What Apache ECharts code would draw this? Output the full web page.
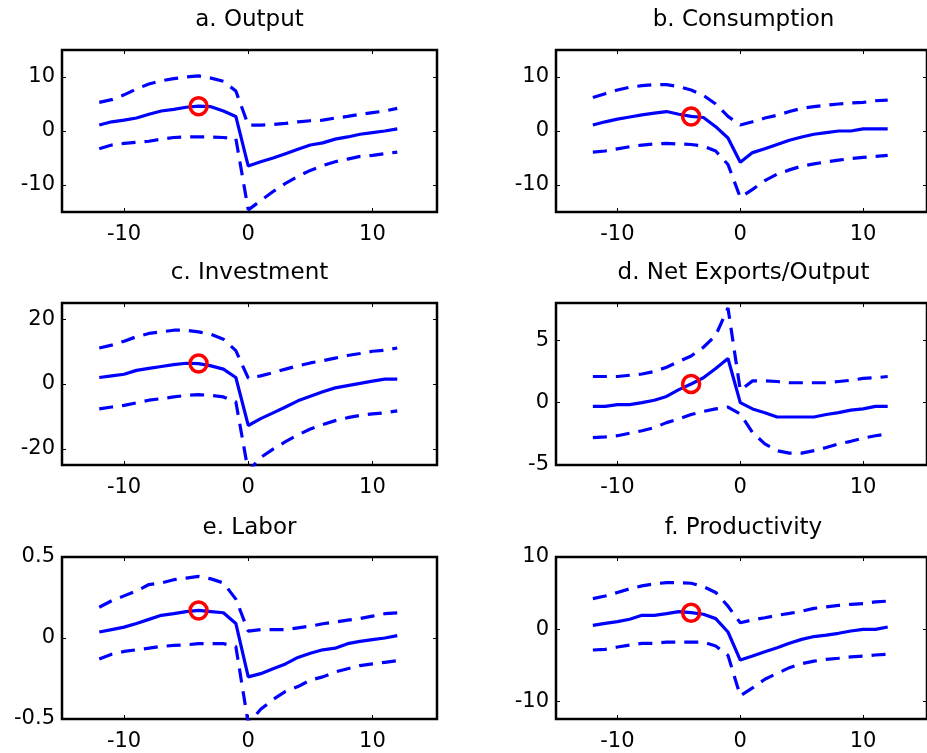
<!DOCTYPE html>
<html>
<head>
<meta charset="utf-8">
<script src="https://cdn.jsdelivr.net/npm/echarts@6/dist/echarts.min.js"></script>
<style>
html,body{margin:0;padding:0;background:#ffffff;}
#chart{width:927px;height:753px;}
</style>
</head>
<body>
<div id="chart"></div>
<script>
// ---- data ----
const lags = [-12,-11,-10,-9,-8,-7,-6,-5,-4,-3,-2,-1,0,1,2,3,4,5,6,7,8,9,10,11,12];
const titles = ['a. Output','b. Consumption','c. Investment','d. Net Exports/Output','e. Labor','f. Productivity'];
const markerLag = -4;

const outputMid = [1.1,1.7,2.0,2.4,3.1,3.7,4.0,4.4,4.6,4.5,3.7,2.7,-6.5,-5.7,-5.0,-4.2,-3.4,-2.6,-2.2,-1.5,-1.1,-0.6,-0.3,0,0.4];
const outputUp  = [5.3,5.8,6.7,7.8,8.7,9.3,9.7,10.0,10.2,9.8,9.2,7.4,1.1,1.1,1.2,1.4,1.7,1.9,2.0,2.4,2.7,3.1,3.4,3.7,4.2];
const outputLo  = [-3.3,-2.6,-2.3,-2.1,-1.9,-1.5,-1.2,-1.1,-1.1,-1.1,-1.2,-1.4,-14.6,-12.9,-11.2,-9.7,-8.4,-7.3,-6.4,-5.7,-5.2,-4.7,-4.5,-4.2,-3.9];

const consMid = [1.1,1.7,2.2,2.6,3.0,3.3,3.6,3.1,2.7,2.5,0.8,-1.3,-5.8,-4.0,-3.3,-2.5,-1.7,-1.1,-0.6,-0.3,0,0,0.4,0.4,0.4];
const consUp  = [6.2,6.9,7.6,8.1,8.4,8.6,8.6,8.2,7.6,6.6,5.0,2.7,1.1,1.7,2.4,2.9,3.6,4.2,4.5,4.8,5.0,5.2,5.3,5.6,5.7];
const consLo  = [-3.9,-3.7,-3.3,-2.9,-2.6,-2.4,-2.3,-2.4,-2.5,-2.8,-3.7,-6.2,-12.3,-10.8,-9.2,-8.0,-7.2,-6.5,-6.1,-5.7,-5.4,-5.1,-4.9,-4.7,-4.5];

const invMid = [2.0,2.5,3.0,4.2,4.8,5.4,6.0,6.4,6.3,5.6,4.6,2.0,-12.8,-10.7,-8.9,-7.1,-5.2,-3.8,-2.4,-1.2,-0.5,0.2,0.9,1.5,1.5];
const invUp  = [11.1,12.0,13.2,14.6,15.6,16.1,16.6,16.6,16.1,15.3,13.8,10.3,1.8,2.5,3.5,4.6,5.6,6.5,7.2,8.0,8.8,9.4,10.1,10.4,11.1];
const invLo  = [-7.7,-7.1,-6.6,-5.8,-5.0,-4.5,-4.0,-3.5,-3.3,-3.5,-4.0,-5.5,-27,-22.7,-20.1,-17.8,-15.7,-13.9,-12.5,-11.3,-10.4,-9.7,-9.2,-8.9,-8.3];

const nxMid = [-0.3,-0.3,-0.15,-0.15,0,0.2,0.5,1.05,1.5,2.0,2.75,3.55,0,-0.5,-0.8,-1.15,-1.15,-1.15,-1.15,-0.95,-0.8,-0.6,-0.5,-0.3,-0.3];
const nxUp  = [2.1,2.1,2.1,2.2,2.3,2.5,2.85,3.3,3.75,4.45,5.4,7.6,1.0,1.75,1.75,1.7,1.6,1.6,1.6,1.6,1.7,1.8,1.95,2.0,2.1];
const nxLo  = [-2.8,-2.75,-2.65,-2.45,-2.25,-2.0,-1.6,-1.3,-0.95,-0.7,-0.5,-0.35,-0.9,-2.4,-3.3,-3.85,-4.05,-4.05,-3.85,-3.6,-3.3,-3.1,-2.85,-2.65,-2.5];

const labMid = [0.037,0.052,0.067,0.09,0.115,0.14,0.15,0.163,0.17,0.163,0.156,0.09,-0.24,-0.22,-0.19,-0.16,-0.12,-0.094,-0.073,-0.063,-0.035,-0.021,-0.01,0,0.015];
const labUp  = [0.19,0.23,0.26,0.29,0.33,0.34,0.36,0.37,0.38,0.365,0.34,0.24,0.042,0.052,0.052,0.052,0.063,0.073,0.088,0.098,0.11,0.12,0.135,0.15,0.155];
const labLo  = [-0.13,-0.1,-0.083,-0.073,-0.063,-0.052,-0.046,-0.042,-0.035,-0.035,-0.035,-0.052,-0.53,-0.44,-0.38,-0.33,-0.3,-0.26,-0.24,-0.21,-0.19,-0.17,-0.16,-0.15,-0.14];

const prodMid = [0.55,0.83,1.06,1.4,1.94,1.94,2.17,2.45,2.3,2.08,1.48,-0.37,-4.25,-3.7,-3.1,-2.54,-1.94,-1.39,-1.0,-0.8,-0.55,-0.23,0,0,0.32];
const prodUp  = [4.25,4.6,5.1,5.6,6.0,6.3,6.45,6.45,6.37,5.9,5.1,3.2,0.9,1.3,1.6,1.94,2.2,2.5,2.9,3.1,3.3,3.45,3.55,3.8,3.9];
const prodLo  = [-2.86,-2.77,-2.45,-2.17,-1.94,-1.94,-1.76,-1.76,-1.76,-1.76,-2.3,-3.6,-9.2,-8.1,-6.9,-6.1,-5.3,-4.75,-4.4,-4.15,-4.0,-3.8,-3.7,-3.55,-3.45];

const xRange = [-15, 15.2];
const xTicks = [-10, 0, 10];
const yRanges = [[-15,15],[-15,15],[-25,25],[-5,8],[-0.5,0.5],[-12.4,10]];
const yTicks = [[-10,0,10],[-10,0,10],[-20,0,20],[-5,0,5],[-0.5,0,0.5],[-10,0,10]];

const panels = [
  [outputMid, outputUp, outputLo],
  [consMid, consUp, consLo],
  [invMid, invUp, invLo],
  [nxMid, nxUp, nxLo],
  [labMid, labUp, labLo],
  [prodMid, prodUp, prodLo]
];

// ---- layout ----
const colLeft = [62, 556];
const rowTop = [50, 303, 557];
const gridW = 375, gridH = 162;
const titleY = [20, 273, 528];
const FONT = '"DejaVu Sans", sans-serif';
const BLUE = '#0000ff';
const DASH = [14, 9];

const grids = [], xAxes = [], yAxes = [], series = [], graphics = [];
const pair = arr => lags.map((x, j) => [x, arr[j]]);

panels.forEach((p, i) => {
  const col = i % 2, row = Math.floor(i / 2);
  grids.push({left: colLeft[col], top: rowTop[row], width: gridW, height: gridH,
    show: true, borderColor: '#000', borderWidth: 2.5, backgroundColor: 'transparent', containLabel: false});
  const tickStyle = {show: true, inside: true, length: 4, lineStyle: {color: '#000', width: 1}};
  ['bottom', 'top'].forEach((pos, k) => {
    xAxes.push({type: 'value', gridIndex: i, position: pos, min: xRange[0], max: xRange[1],
      axisLine: {show: false, onZero: false}, splitLine: {show: false},
      axisTick: Object.assign({customValues: xTicks}, tickStyle),
      axisLabel: {show: k === 0, customValues: xTicks, margin: 12, color: '#000', fontSize: 21, fontFamily: FONT}});
  });
  ['left', 'right'].forEach((pos, k) => {
    yAxes.push({type: 'value', gridIndex: i, position: pos, min: yRanges[i][0], max: yRanges[i][1],
      axisLine: {show: false, onZero: false}, splitLine: {show: false},
      axisTick: Object.assign({customValues: yTicks[i]}, tickStyle),
      axisLabel: {show: k === 0, customValues: yTicks[i], margin: 7, color: '#000', fontSize: 21, fontFamily: FONT}});
  });
  const xi = i * 2, yi = i * 2;
  series.push({type: 'line', xAxisIndex: xi, yAxisIndex: yi, data: pair(p[1]), symbol: 'none', clip: true,
    lineStyle: {color: BLUE, width: 3.2, type: DASH}, silent: true, animation: false});
  series.push({type: 'line', xAxisIndex: xi, yAxisIndex: yi, data: pair(p[2]), symbol: 'none', clip: true,
    lineStyle: {color: BLUE, width: 3.2, type: DASH}, silent: true, animation: false});
  series.push({type: 'line', xAxisIndex: xi, yAxisIndex: yi, data: pair(p[0]), symbol: 'none', clip: true,
    lineStyle: {color: BLUE, width: 3.2}, silent: true, animation: false, z: 3});
  const mIdx = lags.indexOf(markerLag);
  series.push({type: 'scatter', xAxisIndex: xi, yAxisIndex: yi, data: [[markerLag, p[0][mIdx]]],
    symbol: 'circle', symbolSize: 17, z: 5,
    itemStyle: {color: 'rgba(0,0,0,0)', borderColor: '#ff0000', borderWidth: 3.5, opacity: 1}, silent: true, animation: false});
  graphics.push({type: 'text', x: colLeft[col] + gridW / 2, y: titleY[row], silent: true,
    style: {text: titles[i], fill: '#000', font: '23px ' + FONT, textAlign: 'center', textVerticalAlign: 'middle'}});
});

const chart = echarts.init(document.getElementById('chart'), null, {renderer: 'canvas'});
chart.setOption({
  animation: false,
  backgroundColor: '#ffffff',
  grid: grids,
  xAxis: xAxes,
  yAxis: yAxes,
  series: series,
  graphic: graphics
});
</script>
</body>
</html>
